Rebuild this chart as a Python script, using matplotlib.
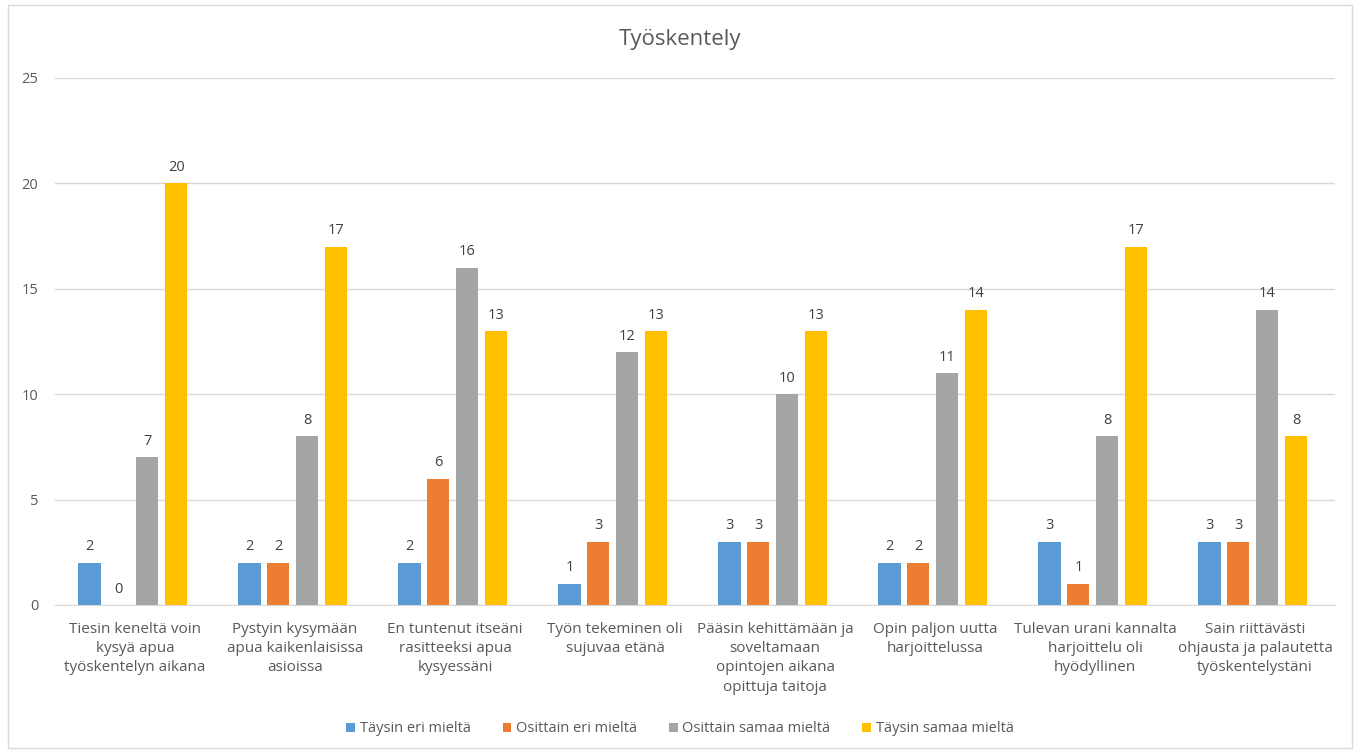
import matplotlib
matplotlib.use("Agg")
import matplotlib.pyplot as plt
import numpy as np
from matplotlib.patches import Rectangle

plt.rcParams['font.family'] = ['Open Sans', 'DejaVu Sans']

categories = [
    "Tiesin keneltä voin\nkysyä apua\ntyöskentelyn aikana",
    "Pystyin kysymään\napua kaikenlaisissa\nasioissa",
    "En tuntenut itseäni\nrasitteeksi apua\nkysyessäni",
    "Työn tekeminen oli\nsujuvaa etänä",
    "Pääsin kehittämään ja\nsoveltamaan\nopintojen aikana\nopittuja taitoja",
    "Opin paljon uutta\nharjoittelussa",
    "Tulevan urani kannalta\nharjoittelu oli\nhyödyllinen",
    "Sain riittävästi\nohjausta ja palautetta\ntyöskentelystäni",
]
series_names = ["Täysin eri mieltä", "Osittain eri mieltä", "Osittain samaa mieltä", "Täysin samaa mieltä"]
taysin_eri = [2, 2, 2, 1, 3, 2, 3, 3]
osittain_eri = [0, 2, 6, 3, 3, 2, 1, 3]
osittain_samaa = [7, 8, 16, 12, 10, 11, 8, 14]
taysin_samaa = [20, 17, 13, 13, 13, 14, 17, 8]
colors = ["#5B9BD5", "#ED7D31", "#A5A5A5", "#FFC000"]
yticks = [0, 5, 10, 15, 20, 25]

W, H = 1360, 753
fig = plt.figure(figsize=(W / 100, H / 100), dpi=100)
fig.patch.set_facecolor("white")
fig.add_artist(Rectangle((8 / W, 5 / H), 1344 / W, 743 / H, transform=fig.transFigure,
                         fill=False, edgecolor="#D9D9D9", linewidth=1))

ax = fig.add_axes([55 / W, 1 - 605 / H, 1280 / W, (605 - 78) / H])
x = np.arange(len(categories))
step = 0.181
bw = 0.138
shift = -0.013
data = [taysin_eri, osittain_eri, osittain_samaa, taysin_samaa]
for i, (vals, c, name) in enumerate(zip(data, colors, series_names)):
    pos = x + (i - 1.5) * step + shift
    ax.bar(pos, vals, width=bw, color=c, label=name, zorder=3)
    for p, v in zip(pos, vals):
        ax.text(p, v + 0.4, str(v), ha="center", va="bottom", fontsize=10.5, color="#404040")

ax.set_xlim(-0.5, len(categories) - 0.5)
ax.set_ylim(0, 25)
ax.set_yticks(yticks)
ax.set_yticklabels([str(t) for t in yticks], fontsize=10.5, color="#595959")
ax.set_xticks(x)
ax.set_xticklabels(categories, fontsize=11, color="#595959", linespacing=1.4, va="top")
ax.tick_params(axis="both", length=0)
ax.tick_params(axis="y", pad=12)
ax.tick_params(axis="x", pad=12)
ax.grid(axis="y", color="#D9D9D9", linewidth=1, zorder=0)
for s in ["top", "right", "left"]:
    ax.spines[s].set_visible(False)
ax.spines["bottom"].set_color("#D9D9D9")
ax.set_facecolor("white")

fig.text(680 / W, 1 - 40 / H, "Työskentely", ha="center", va="center", fontsize=16, color="#595959")

handles, labels = ax.get_legend_handles_labels()
leg = fig.legend(handles, labels, loc="center", bbox_to_anchor=(680 / W, 1 - 729 / H), ncol=4,
                 frameon=False, fontsize=10.5, handlelength=0.6, handleheight=0.6,
                 columnspacing=2.2, handletextpad=0.3)
for t in leg.get_texts():
    t.set_color("#595959")

fig.savefig("out.png", dpi=100, facecolor="white")
